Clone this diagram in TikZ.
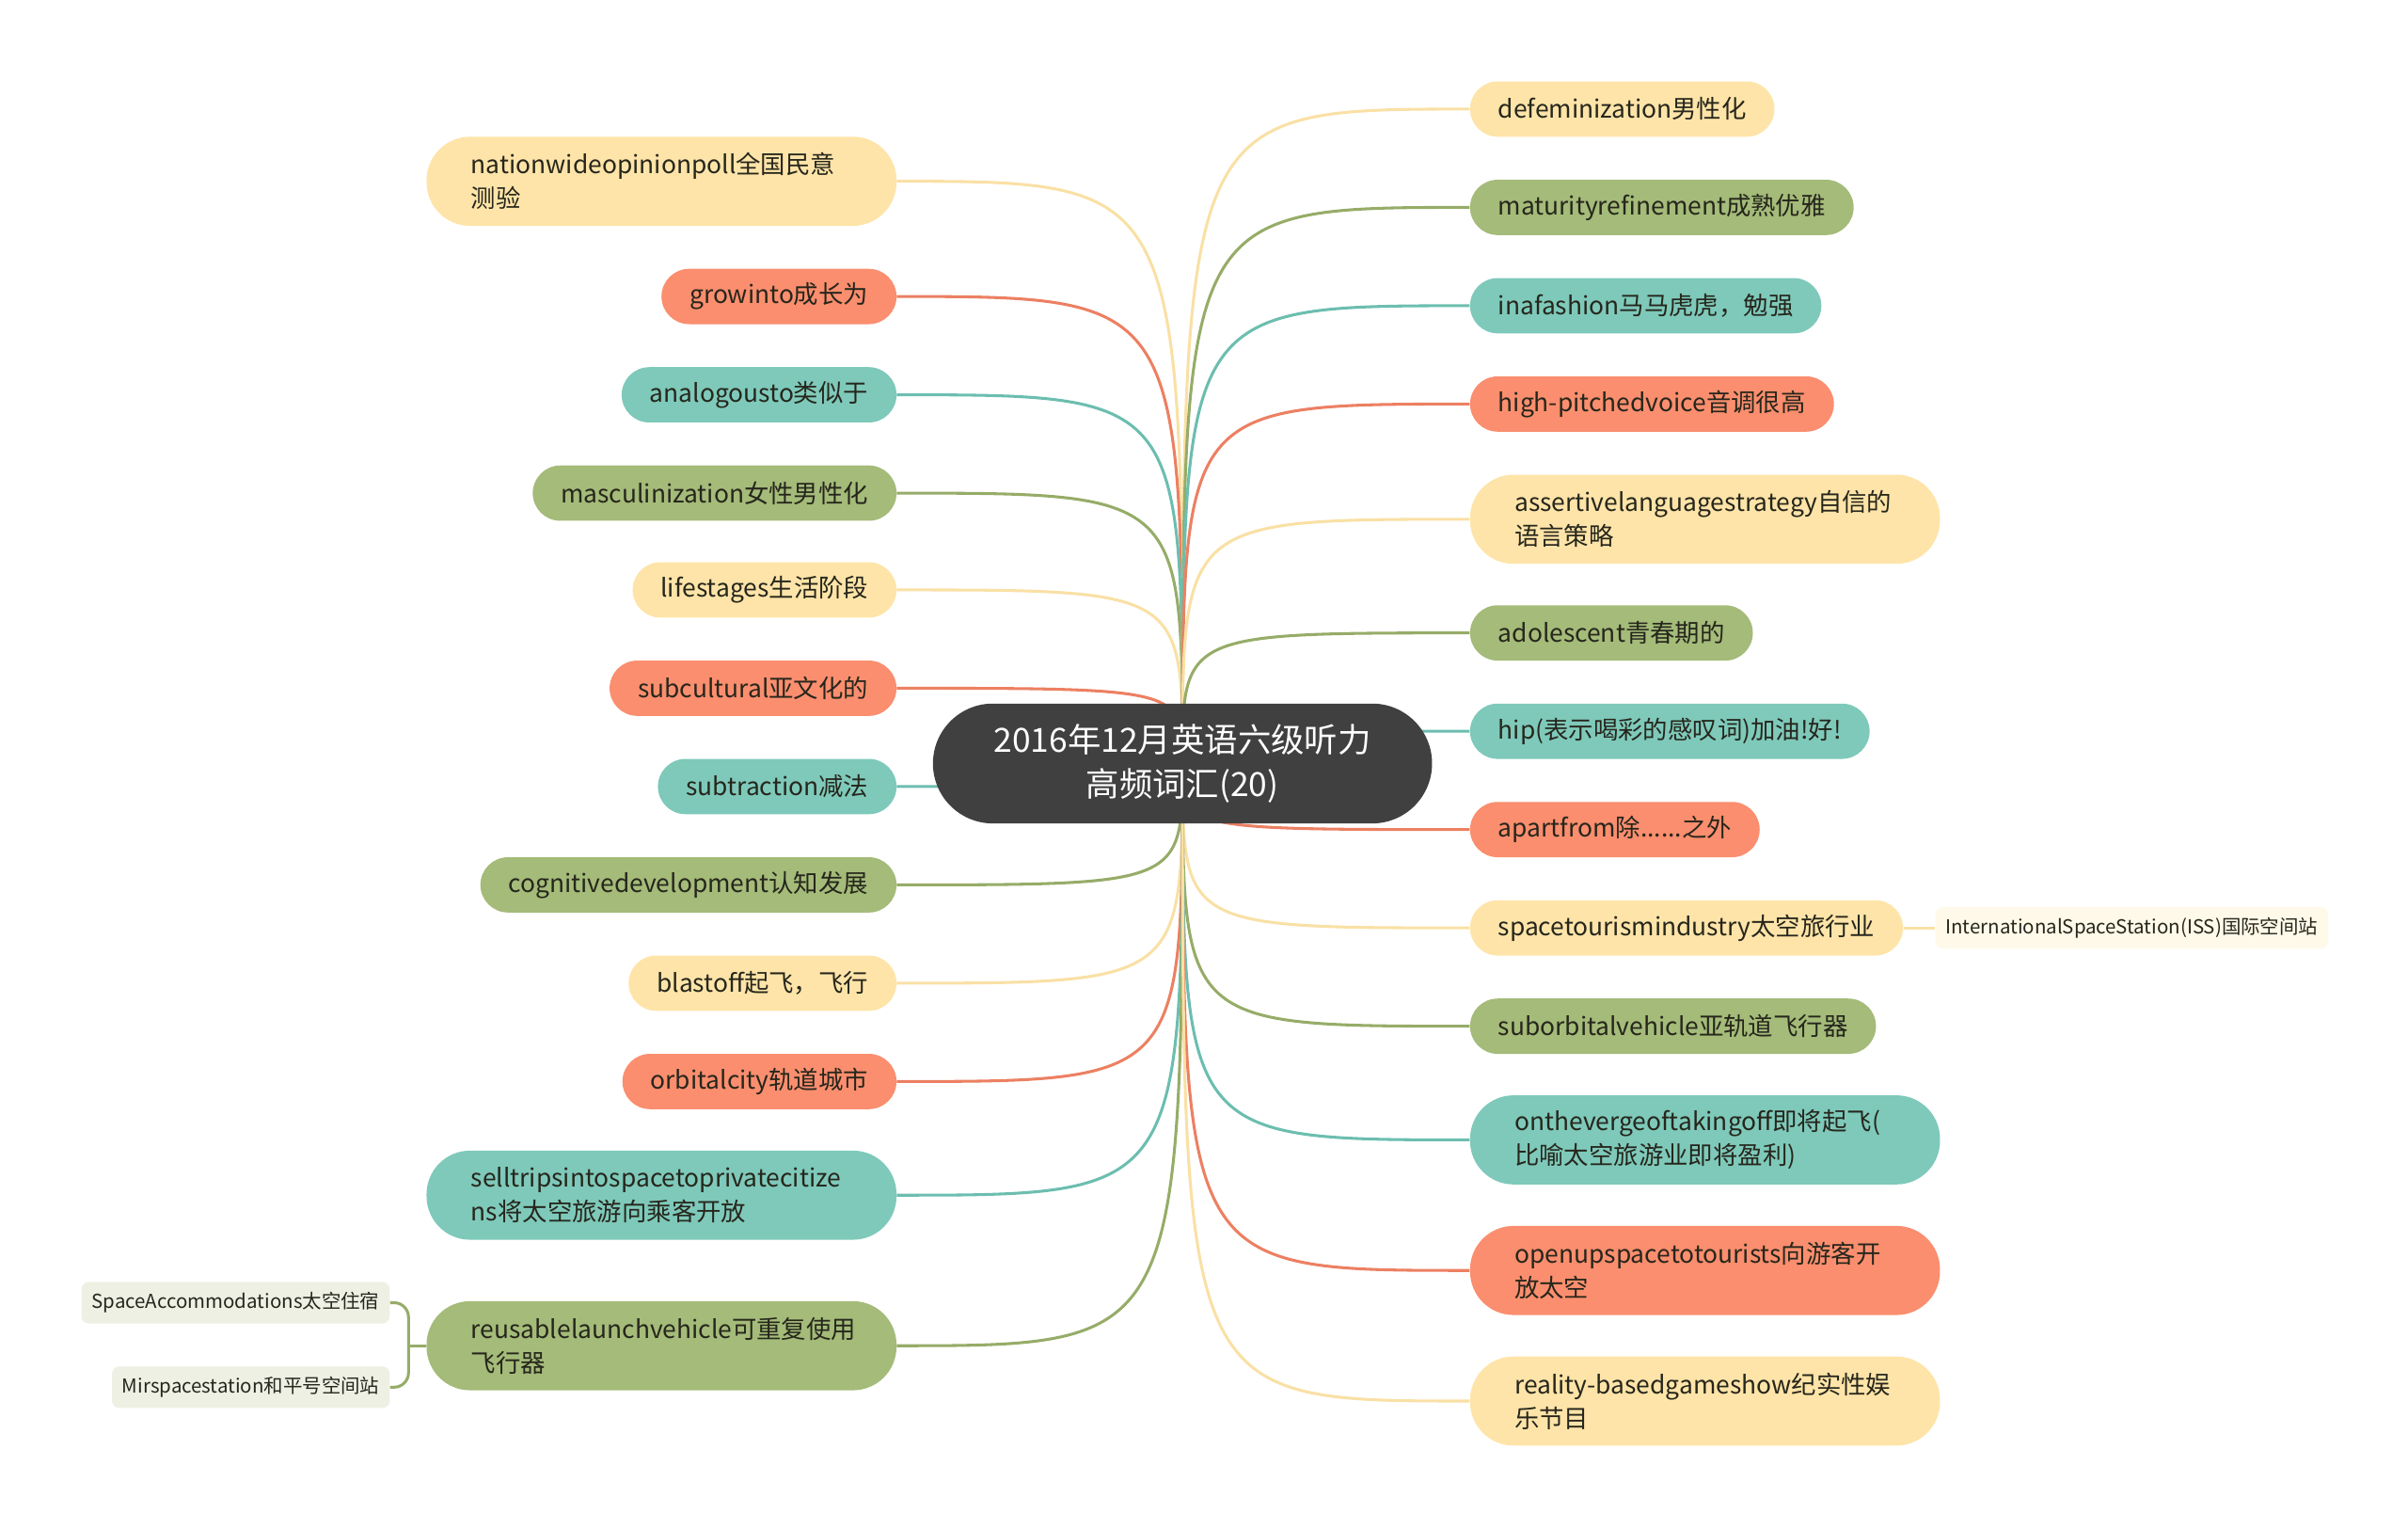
\documentclass[tikz,border=0pt]{standalone}
\usepackage{fontspec}
\setmainfont{Noto Sans CJK SC}
\usetikzlibrary{positioning,backgrounds}
\definecolor{RootGray}{RGB}{64,64,64}
\definecolor{Ink}{RGB}{38,38,28}
\definecolor{Yel}{RGB}{254,228,168}
\definecolor{Org}{RGB}{250,142,110}
\definecolor{Tea}{RGB}{126,201,186}
\definecolor{Grn}{RGB}{164,187,121}
\definecolor{YelLine}{RGB}{249,224,165}
\definecolor{OrgLine}{RGB}{236,128,98}
\definecolor{TeaLine}{RGB}{108,190,175}
\definecolor{GrnLine}{RGB}{150,172,104}
\definecolor{SoftGrn}{RGB}{238,240,228}
\definecolor{SoftYel}{RGB}{254,249,233}
\tikzset{
  topic/.style={rounded corners=.54cm,text=Ink,font=\fontsize{13.8}{18.8}\selectfont,minimum height=1.08cm,inner xsep=.55cm,inner ysep=2pt,align=left},
  twoline/.style={rounded corners=.85cm,minimum height=1.74cm,inner xsep=.87cm,text width=7.44cm},
  ylw/.style={topic,fill=Yel},
  org/.style={topic,fill=Org},
  tea/.style={topic,fill=Tea},
  grn/.style={topic,fill=Grn},
  root/.style={fill=RootGray,text=white,rounded corners=1.17cm,font=\fontsize{18.5}{25}\selectfont,align=center,minimum width=9.75cm,minimum height=2.34cm},
  leaf/.style={rounded corners=4pt,text=Ink,font=\fontsize{10.7}{13}\selectfont,minimum height=.81cm,inner xsep=.2cm},
  link/.style={line width=1.6pt}
}

\begin{document}
\begin{tikzpicture}[x=.03cm,y=-.03cm]
  \useasboundingbox (0,0) rectangle (1568,995);
  \node[root] (root) at (770,497) {2016年12月英语六级听力\\高频词汇(20)};
  % left side
  \node[ylw,twoline,anchor=east] (poll) at (584,118) {nationwideopinionpoll全国民意\\测验};
  \node[org,anchor=east] (grow) at (584,193) {growinto成长为};
  \node[tea,anchor=east] (analog) at (584,257) {analogousto类似于};
  \node[grn,anchor=east] (masc) at (584,321) {masculinization女性男性化};
  \node[ylw,anchor=east] (life) at (584,384) {lifestages生活阶段};
  \node[org,anchor=east] (subcult) at (584,448) {subcultural亚文化的};
  \node[tea,anchor=east] (subtr) at (584,512) {subtraction减法};
  \node[grn,anchor=east] (cogn) at (584,576) {cognitivedevelopment认知发展};
  \node[ylw,anchor=east] (blast) at (584,640) {blastoff起飞，飞行};
  \node[org,anchor=east] (orbit) at (584,704) {orbitalcity轨道城市};
  \node[tea,twoline,anchor=east] (sell) at (584,778) {selltripsintospacetoprivatecitize\\ns将太空旅游向乘客开放};
  \node[grn,twoline,anchor=east] (reuse) at (584,876) {reusablelaunchvehicle可重复使用\\飞行器};
  \node[leaf,fill=SoftGrn,anchor=east] (accom) at (254,848) {SpaceAccommodations太空住宿};
  \node[leaf,fill=SoftGrn,anchor=east] (mir) at (254,903) {Mirspacestation和平号空间站};
  % right side
  \node[ylw,anchor=west] (defem) at (957,71) {defeminization男性化};
  \node[grn,anchor=west] (matur) at (957,135) {maturityrefinement成熟优雅};
  \node[tea,anchor=west] (fashion) at (957,199) {inafashion马马虎虎，勉强};
  \node[org,anchor=west] (pitch) at (957,263) {high-pitchedvoice音调很高};
  \node[ylw,twoline,anchor=west] (assert) at (957,338) {assertivelanguagestrategy自信的\\语言策略};
  \node[grn,anchor=west] (adol) at (957,412) {adolescent青春期的};
  \node[tea,anchor=west] (hip) at (957,476) {hip(表示喝彩的感叹词)加油!好!};
  \node[org,anchor=west] (apart) at (957,540) {apartfrom除......之外};
  \node[ylw,anchor=west] (tourism) at (957,604) {spacetourismindustry太空旅行业};
  \node[leaf,fill=SoftYel,anchor=west] (iss) at (1260,604) {InternationalSpaceStation(ISS)国际空间站};
  \node[grn,anchor=west] (suborb) at (957,668) {suborbitalvehicle亚轨道飞行器};
  \node[tea,twoline,anchor=west] (verge) at (957,742) {onthevergeoftakingoff即将起飞(\\比喻太空旅游业即将盈利)};
  \node[org,twoline,anchor=west] (openup) at (957,827) {openupspacetotourists向游客开\\放太空};
  \node[ylw,twoline,anchor=west] (reality) at (957,912) {reality-basedgameshow纪实性娱\\乐节目};
  \begin{scope}[on background layer]
    \draw[link,YelLine] (root.center) .. controls (root.center |- poll.east) .. (poll.east);
    \draw[link,OrgLine] (root.center) .. controls (root.center |- grow.east) .. (grow.east);
    \draw[link,TeaLine] (root.center) .. controls (root.center |- analog.east) .. (analog.east);
    \draw[link,GrnLine] (root.center) .. controls (root.center |- masc.east) .. (masc.east);
    \draw[link,YelLine] (root.center) .. controls (root.center |- life.east) .. (life.east);
    \draw[link,OrgLine] (root.center) .. controls (root.center |- subcult.east) .. (subcult.east);
    \draw[link,TeaLine] (root.center) .. controls (root.center |- subtr.east) .. (subtr.east);
    \draw[link,GrnLine] (root.center) .. controls (root.center |- cogn.east) .. (cogn.east);
    \draw[link,YelLine] (root.center) .. controls (root.center |- blast.east) .. (blast.east);
    \draw[link,OrgLine] (root.center) .. controls (root.center |- orbit.east) .. (orbit.east);
    \draw[link,TeaLine] (root.center) .. controls (root.center |- sell.east) .. (sell.east);
    \draw[link,GrnLine] (root.center) .. controls (root.center |- reuse.east) .. (reuse.east);
    \draw[link,YelLine] (root.center) .. controls (root.center |- defem.west) .. (defem.west);
    \draw[link,GrnLine] (root.center) .. controls (root.center |- matur.west) .. (matur.west);
    \draw[link,TeaLine] (root.center) .. controls (root.center |- fashion.west) .. (fashion.west);
    \draw[link,OrgLine] (root.center) .. controls (root.center |- pitch.west) .. (pitch.west);
    \draw[link,YelLine] (root.center) .. controls (root.center |- assert.west) .. (assert.west);
    \draw[link,GrnLine] (root.center) .. controls (root.center |- adol.west) .. (adol.west);
    \draw[link,TeaLine] (root.center) .. controls (root.center |- hip.west) .. (hip.west);
    \draw[link,OrgLine] (root.center) .. controls (root.center |- apart.west) .. (apart.west);
    \draw[link,YelLine] (root.center) .. controls (root.center |- tourism.west) .. (tourism.west);
    \draw[link,GrnLine] (root.center) .. controls (root.center |- suborb.west) .. (suborb.west);
    \draw[link,TeaLine] (root.center) .. controls (root.center |- verge.west) .. (verge.west);
    \draw[link,OrgLine] (root.center) .. controls (root.center |- openup.west) .. (openup.west);
    \draw[link,YelLine] (root.center) .. controls (root.center |- reality.west) .. (reality.west);
    % sub-branches
    \draw[link,YelLine] (tourism.east) -- (iss.west);
    \coordinate (fork) at (266,876);
    \draw[link,GrnLine] (reuse.west) -- (fork);
    \draw[link,GrnLine,rounded corners=8pt] (accom.east) -| (fork) |- (mir.east);
  \end{scope}
\end{tikzpicture}
\end{document}
